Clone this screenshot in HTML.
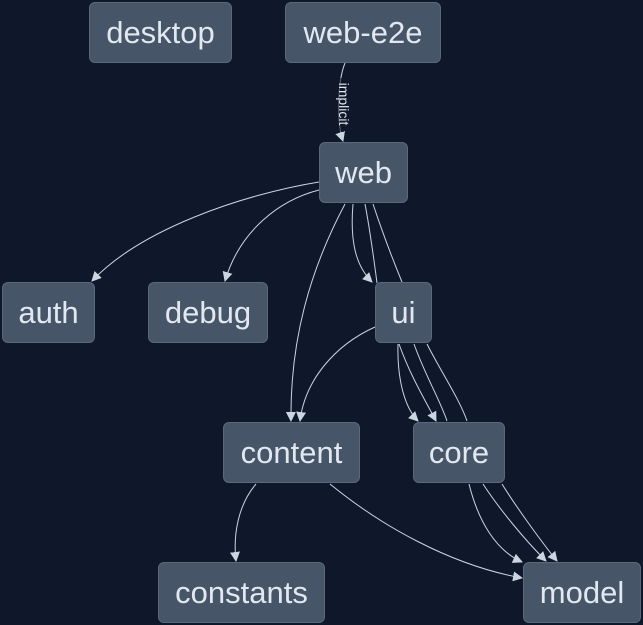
<!DOCTYPE html>
<html><head><style>
body{margin:0;background:#0f172a;}
.n{position:absolute;background:#475569;border:1px solid #5b687c;border-radius:6px;box-sizing:border-box;color:#e2e8f0;font:31px "Liberation Sans",sans-serif;display:flex;align-items:center;justify-content:center;}
</style></head><body>
<div style="position:relative;width:643px;height:625px;overflow:hidden;background:#0f172a">
<svg width="643" height="625" style="position:absolute;left:0;top:0">
<defs><marker id="a" markerWidth="10" markerHeight="10" refX="9" refY="5" orient="auto" markerUnits="userSpaceOnUse"><path d="M0,0 L10,5 L0,10 z" fill="#cbd5e1"/></marker></defs>
<g fill="none" stroke="#cbd5e1" stroke-width="1">
<path d="M345,63 C338,80 336,120 343,141" marker-end="url(#a)"/>
<path d="M319,182 C240,195 140,230 92,281" marker-end="url(#a)"/>
<path d="M319,190 C280,200 240,230 225,281" marker-end="url(#a)"/>
<path d="M345,204 C310,270 290,340 291,421" marker-end="url(#a)"/>
<path d="M353,204 C350,240 355,265 372,282" marker-end="url(#a)"/>
<path d="M365,204 C370,230 374,260 377,283"/>
<path d="M373,204 C385,240 395,265 402,282"/>
<path d="M375,327 C335,345 305,380 300,421" marker-end="url(#a)"/>
<path d="M398,344 C397,380 405,408 418,421" marker-end="url(#a)"/>
<path d="M399,344 C410,375 425,400 436,421" marker-end="url(#a)"/>
<path d="M414,344 C425,375 440,400 447,421"/>
<path d="M427,344 C440,370 460,400 467,421"/>
<path d="M469,484 C478,520 495,550 522,562" marker-end="url(#a)"/>
<path d="M483,484 C500,510 525,540 546,561" marker-end="url(#a)"/>
<path d="M502,484 C515,505 540,540 557,561" marker-end="url(#a)"/>
<path d="M330,484 C380,525 450,565 522,578" marker-end="url(#a)"/>
<path d="M256,484 C238,505 233,535 236,561" marker-end="url(#a)"/>
</g>
<rect x="328" y="78" width="16" height="54" fill="#0f172a" opacity="0.6"/>
<text x="0" y="0" transform="translate(339,104) rotate(90)" text-anchor="middle" fill="#e2e8f0" font-family="Liberation Sans,sans-serif" font-size="14">implicit</text>
</svg>
<div class="n" style="left:89px;top:2px;width:143px;height:61px">desktop</div>
<div class="n" style="left:285px;top:2px;width:156px;height:61px">web-e2e</div>
<div class="n" style="left:319px;top:142px;width:89px;height:61px">web</div>
<div class="n" style="left:2px;top:282px;width:93px;height:61px">auth</div>
<div class="n" style="left:148px;top:282px;width:120px;height:61px">debug</div>
<div class="n" style="left:375px;top:282px;width:57px;height:61px">ui</div>
<div class="n" style="left:223px;top:422px;width:137px;height:61px">content</div>
<div class="n" style="left:413px;top:422px;width:92px;height:61px">core</div>
<div class="n" style="left:158px;top:562px;width:167px;height:61px">constants</div>
<div class="n" style="left:523px;top:562px;width:118px;height:61px">model</div>
</div>
</body></html>
